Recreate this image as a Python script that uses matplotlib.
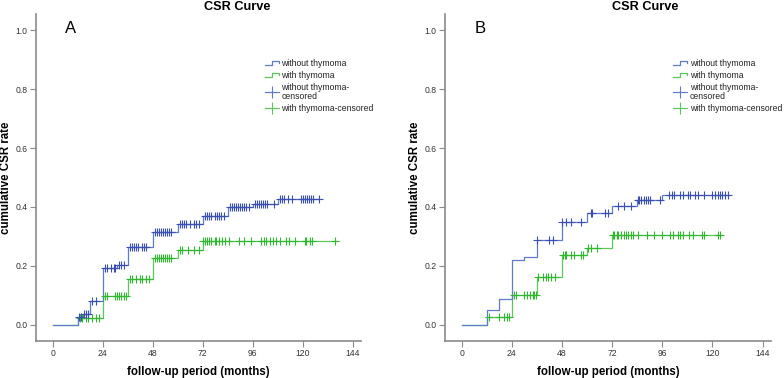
import numpy as np
import matplotlib
matplotlib.use('Agg')
import matplotlib.pyplot as plt
from matplotlib.lines import Line2D
from matplotlib.legend_handler import HandlerBase

plt.rcParams['font.family'] = ['Liberation Sans', 'DejaVu Sans']

# ---- data (months, cumulative CSR rate) ----
# Panel A
a_blue_t = [0, 12, 14.5, 18, 24, 31, 36, 48, 60, 72, 84, 96, 108, 128]
a_blue_v = [0, .028, .036, .082, .194, .203, .264, .314, .343, .370, .399, .409, .427, .427]
a_blue_cens = [12.5, 13.5, 15, 16, 17, 19, 21, 25, 26, 28, 29.5, 30, 32, 33, 34,
               37, 38, 39, 40, 41, 43, 44, 45, 49, 50, 51, 52, 53, 54, 55, 56, 57,
               61, 62, 63, 64, 66, 68, 69, 70, 73, 74, 75, 76, 78, 79, 80, 81, 82,
               85, 86, 87, 88, 89, 90, 91, 92, 93, 94, 97, 98, 99, 100, 101, 102, 103, 106,
               109, 110, 111, 113, 115, 119, 120, 121, 122, 123, 124, 125, 128]
a_green_t = [0, 12, 24, 36, 48, 60, 72, 136]
a_green_v = [0, .022, .099, .154, .227, .253, .285, .285]
a_green_cens = [13, 14, 16, 17, 19, 21, 22, 25, 26, 30, 31, 32, 33, 34, 35,
                37, 38, 40, 42, 43, 45, 46, 49, 50, 51, 52, 53, 54, 55, 56, 57,
                61, 62, 65, 68, 70, 72.2, 73, 74.1, 75.1, 76.2, 77.8, 78.6, 79.9, 81.5, 82.6,
                84.7, 89.5, 91.7, 95.4, 100.2, 101.3, 102.6, 104.2, 105.8, 107.1, 109,
                112.2, 113.4, 116.2, 121, 121.8, 123.4, 124.7, 135.4]

# Panel B
b_blue_t = [0, 12, 18, 24, 30, 36, 48, 60, 72, 84, 96, 127.3]
b_blue_v = [0, .049, .087, .220, .229, .287, .349, .380, .403, .425, .441, .441]
b_blue_cens = [36, 42, 43.5, 48.1, 50.1, 52.5, 56.9, 61.7, 62.5, 68.8, 70,
               74.7, 77.8, 81, 84.2, 85, 86, 87, 88, 89, 90,
               95.1, 99.1, 100.4, 101.5, 104.6, 105.7, 108.3, 109.4, 111.8, 113,
               115.7, 119.7, 121.3, 122.5, 123.6, 124.7, 126, 127.2]
b_green_t = [0, 12, 24, 36, 48, 60, 72, 124.2]
b_green_v = [0, .028, .101, .161, .237, .259, .306, .306]
b_green_cens = [13, 17.7, 20, 21.7, 22.5, 24.8, 25.9, 29.6, 31.2, 32.7, 33.9, 34.8, 35.4,
                36.7, 39.1, 40.2, 41.1, 42.7, 44.6, 48.6, 49.4, 50.1, 52.5, 53.8, 57, 58,
                60.4, 61.7, 64.9, 72.2, 73, 74.1, 75, 76.2, 77.7, 78.8, 79.8, 80.9, 82,
                84.5, 88.8, 92, 95.9, 99.9, 101, 103.5, 104.6, 105.7, 108.6, 110.9,
                114.9, 115.7, 122.8, 123.6]

x_ticks = [0, 24, 48, 72, 96, 120, 144]
y_ticks = [0.0, 0.2, 0.4, 0.6, 0.8, 1.0]
legend_labels = ['without thymoma', 'with thymoma',
                 'without thymoma-\ncensored', 'with thymoma-censored']

BLUE_LINE = '#5f7bce'
BLUE_MARK = '#3a50b0'
GREEN_LINE = '#5cc85c'
GREEN_MARK = '#2fb82f'
AXIS_GRAY = '#8a8a8a'


class StepHandler(HandlerBase):
    # little step glyph used by SPSS legends
    def create_artists(self, legend, orig_handle, xdescent, ydescent,
                       width, height, fontsize, trans):
        x0 = -xdescent
        y0 = -ydescent
        xs = [x0, x0 + .5 * width, x0 + .5 * width, x0 + width, x0 + width]
        ys = [y0 + .2 * height, y0 + .2 * height, y0 + .85 * height,
              y0 + .85 * height, y0 + .45 * height]
        ln = Line2D(xs, ys, color=orig_handle.get_color(), lw=0.9)
        ln.set_transform(trans)
        return [ln]


def level_at(t_steps, v_steps, t):
    idx = np.searchsorted(t_steps, t, side='right') - 1
    return np.asarray(v_steps)[idx]


def draw_panel(ax, letter, bt, bv, bc, gt, gv, gc, leg_x):
    ax.step(gt, gv, where='post', color=GREEN_LINE, lw=0.9, zorder=2)
    ax.step(bt, bv, where='post', color=BLUE_LINE, lw=0.9, zorder=3)
    ax.plot(gc, level_at(gt, gv, gc), ls='none', marker='+', ms=5.5, mew=0.8,
            color=GREEN_MARK, zorder=4)
    ax.plot(bc, level_at(bt, bv, bc), ls='none', marker='+', ms=5.5, mew=0.8,
            color=BLUE_MARK, zorder=5)

    ax.set_xlim(-8, 148)
    ax.set_ylim(-0.055, 1.055)
    ax.set_xticks(x_ticks)
    ax.set_yticks(y_ticks)
    ax.set_yticklabels([f'{v:.1f}' for v in y_ticks])
    for s in ['top', 'right']:
        ax.spines[s].set_visible(False)
    for s in ['left', 'bottom']:
        ax.spines[s].set_color(AXIS_GRAY)
        ax.spines[s].set_linewidth(1.2)
    ax.tick_params(labelsize=6.2, colors='#333333', length=4, width=0.8,
                   pad=2)
    ax.tick_params(color=AXIS_GRAY)
    ax.set_xlabel('follow-up period (months)', fontsize=8.3, fontweight='bold',
                  va='center')
    ax.xaxis.set_label_coords(0.5, -0.095)
    ax.set_ylabel('cumulative CSR rate', fontsize=8.3, fontweight='bold',
                  va='center')
    ax.yaxis.set_label_coords(-0.092, 0.5)
    ax.text(0.107, 0.955, letter, transform=ax.transAxes, fontsize=12,
            ha='center', va='center')

    h_blue = Line2D([], [], color=BLUE_LINE)
    h_green = Line2D([], [], color=GREEN_LINE)
    h_bc = Line2D([], [], ls='-', lw=0.8, marker='+', ms=8, mew=0.8, color=BLUE_LINE)
    h_gc = Line2D([], [], ls='-', lw=0.8, marker='+', ms=8, mew=0.8, color=GREEN_LINE)
    leg = ax.legend([h_blue, h_green, h_bc, h_gc], legend_labels,
                    handler_map={h_blue: StepHandler(), h_green: StepHandler()},
                    loc='upper left', bbox_to_anchor=(leg_x, 0.862),
                    frameon=False, fontsize=6.2, handlelength=1.6,
                    handletextpad=0.3, labelspacing=0.35, borderpad=0,
                    borderaxespad=0)
    for t in leg.get_texts():
        t.set_linespacing(0.95)
        t.set_color('#222222')


fig = plt.figure(figsize=(7.84, 3.78), dpi=100)
ax_a = fig.add_axes([36 / 784, 37 / 378, 325 / 784, 327 / 378])
ax_b = fig.add_axes([445 / 784, 37 / 378, 326 / 784, 327 / 378])

draw_panel(ax_a, 'A', a_blue_t, a_blue_v, a_blue_cens,
           a_green_t, a_green_v, a_green_cens, 0.705)
draw_panel(ax_b, 'B', b_blue_t, b_blue_v, b_blue_cens,
           b_green_t, b_green_v, b_green_cens, 0.70)

fig.text(237 / 784, 1 - 7 / 378, 'CSR Curve', fontsize=9.2, fontweight='bold',
         ha='center', va='center')
fig.text(645 / 784, 1 - 7 / 378, 'CSR Curve', fontsize=9.2, fontweight='bold',
         ha='center', va='center')

fig.savefig('out.png', dpi=100)
